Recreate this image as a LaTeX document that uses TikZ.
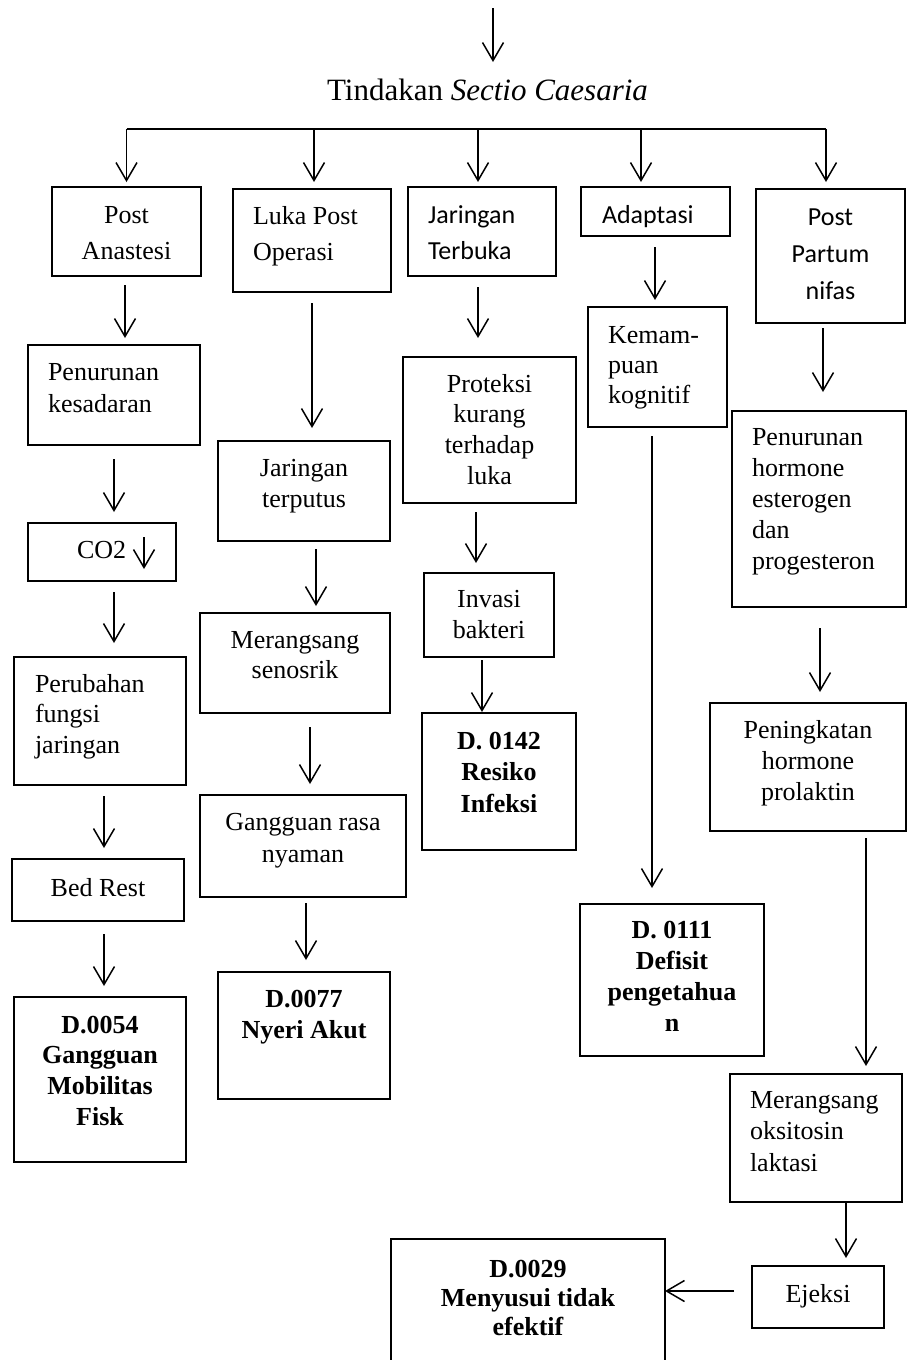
\documentclass[tikz,border=0pt]{standalone}
\usepackage{fontspec}
\setmainfont{Liberation Serif}
\newfontfamily\calfont{Carlito}
\usetikzlibrary{arrows.meta}
\makeatletter
% centred box text: width, height, first baseline, line pitch, text
\newcommand\bxc[5]{\vbox to #2pt{\hsize=#1pt\relax\centering\parskip=0pt\relax
  \baselineskip=#4pt\relax\lineskiplimit=-100pt\relax
  \vskip\dimexpr#3pt-20pt\relax\noindent\rule{0pt}{20pt}#5\par\vfill}}
% left-aligned box text: width, height, first baseline, line pitch, left margin, text
\newcommand\bxl[6]{\vbox to #2pt{\hsize=#1pt\relax\raggedright\leftskip=#5pt\relax\parskip=0pt\relax
  \baselineskip=#4pt\relax\lineskiplimit=-100pt\relax
  \vskip\dimexpr#3pt-20pt\relax\noindent\rule{0pt}{20pt}#6\par\vfill}}
\makeatother
\tikzset{
  box/.style={draw, line width=1.1pt, inner sep=0pt, outer sep=0pt, anchor=north west},
  tr/.style={font=\fontsize{26}{31}\selectfont},
  trb/.style={font=\fontsize{26}{31}\selectfont\bfseries},
  ca/.style={font=\calfont\fontsize{26}{37}\selectfont},
  link/.style={line width=1.5pt},
  arr/.style={line width=1.5pt, -{Straight Barb[length=18pt,width=21pt]}}
}
\begin{document}
\begin{tikzpicture}[x=1pt,y=-1pt]
\useasboundingbox (0,0) rectangle (907,1360);

% title and top arrow
\node[anchor=base, font=\fontsize{31}{37}\selectfont] (title) at (487.5,100) {Tindakan \textit{Sectio Caesaria}};
\coordinate (topstart) at (493,8);
\coordinate (topend) at (493,62);
\draw[arr] (topstart) -- (topend);

% distribution bar
\coordinate (d1) at (126.5,129);
\coordinate (d2) at (314,129);
\coordinate (d3) at (478,129);
\coordinate (d4) at (641,129);
\coordinate (d5) at (826,129);
\draw[link] (d1) -- (d5);

% first row
\node[box, tr] (pa) at (52,187) {\bxc{149}{89}{36}{36}{Post\\Anastesi}};
\node[box, tr] (lp) at (233,189) {\bxl{158}{103}{35}{36}{20}{Luka Post\\Operasi}};
\node[box, ca] (jt) at (408,187) {\bxl{148}{89}{36}{36}{20}{Jaringan\\Terbuka}};
\node[box, ca] (ad) at (581,187) {\bxl{149}{49}{36}{36}{21}{Adaptasi}};
\node[box, ca] (pp) at (756,189) {\bxc{149}{134}{36}{37}{Post\\Partum\\nifas}};

% column 1
\node[box, tr] (pk) at (28,345) {\bxl{172}{100}{35}{32}{20}{Penurunan\\kesadaran}};
\node[box, tr] (co) at (28,523) {\bxl{148}{58}{35}{31}{49}{CO2}};
\node[box, tr] (pf) at (14,657) {\bxl{172}{128}{35}{30.5}{21}{Perubahan\\fungsi\\jaringan}};
\node[box, tr] (br) at (12,859) {\bxc{172}{62}{37}{31}{Bed Rest}};
\node[box, trb] (dm) at (14,997) {\bxc{172}{165}{36}{30.7}{D.0054\\Gangguan\\Mobilitas\\Fisk}};

% column 2
\node[box, tr] (jtp) at (218,441) {\bxc{172}{100}{35}{31}{Jaringan\\terputus}};
\node[box, tr] (ms) at (200,613) {\bxc{190}{100}{35}{30}{Merangsang\\senosrik}};
\node[box, tr] (gr) at (200,795) {\bxc{206}{102}{35}{32}{Gangguan rasa\\nyaman}};
\node[box, trb] (na) at (218,972) {\bxc{172}{127}{35}{31}{D.0077\\Nyeri Akut}};

% column 3
\node[box, tr] (pr) at (403,357) {\bxc{173}{146}{35}{30.7}{Proteksi\\kurang\\terhadap\\luka}};
\node[box, tr] (ib) at (424,573) {\bxc{130}{84}{34}{31}{Invasi\\bakteri}};
\node[box, trb] (ri) at (422,713) {\bxc{154}{137}{36}{31.5}{D. 0142\\Resiko\\Infeksi}};

% column 4
\node[box, tr] (kk) at (588,307) {\bxl{139}{120}{36}{30}{20}{Kemam-\\puan\\kognitif}};
\node[box, trb] (dp) at (580,904) {\bxc{184}{152}{34}{31}{D. 0111\\Defisit\\pengetahua\\n}};

% column 5
\node[box, tr] (ph) at (732,411) {\bxl{174}{196}{34}{31}{20}{Penurunan\\hormone\\esterogen\\dan\\progesteron}};
\node[box, tr] (pl) at (710,703) {\bxc{196}{128}{35}{31}{Peningkatan\\hormone\\prolaktin}};
\node[box, tr] (mo) at (730,1074) {\bxl{172}{128}{34}{31.5}{20}{Merangsang\\oksitosin\\laktasi}};
\node[box, tr] (ej) at (752,1266) {\bxc{132}{62}{36}{31}{Ejeksi}};
\node[box, trb] (mt) at (391,1239) {\bxc{274}{130}{38}{29}{D.0029\\Menyusui tidak\\efektif}};

% drops from the bar
\draw[arr, shorten >=5pt] (d1) -- ([xshift=74.5pt]pa.north west);
\draw[arr, shorten >=7pt] (d2) -- ([xshift=81pt]lp.north west);
\draw[arr, shorten >=5pt] (d3) -- ([xshift=70pt]jt.north west);
\draw[arr, shorten >=5pt] (d4) -- ([xshift=60pt]ad.north west);
\draw[arr, shorten >=7pt] (d5) -- ([xshift=70pt]pp.north west);

% small arrow inside CO2 box
\draw[arr] ([shift={(116,14)}]co.north west) -- ([shift={(116,46)}]co.north west);

% vertical connectors
\draw[arr, shorten <=9pt, shorten >=7pt] ([xshift=73pt]pa.south west) -- ([xshift=97pt]pk.north west);
\draw[arr, shorten <=11pt, shorten >=13pt] ([xshift=79pt]lp.south west) -- ([xshift=94pt]jtp.north west);
\draw[arr, shorten <=11pt, shorten >=19pt] ([xshift=70pt]jt.south west) -- ([xshift=75pt]pr.north west);
\draw[arr, shorten <=11pt, shorten >=7pt] ([xshift=74pt]ad.south west) -- ([xshift=67pt]kk.north west);
\draw[arr, shorten <=5pt, shorten >=19pt] ([xshift=67pt]pp.south west) -- ([xshift=91pt]ph.north west);

\draw[arr, shorten <=14pt, shorten >=11pt] ([xshift=86pt]pk.south west) -- ([xshift=86pt]co.north west);
\draw[arr, shorten <=11pt, shorten >=14pt] ([xshift=86pt]co.south west) -- ([xshift=100pt]pf.north west);
\draw[arr, shorten <=11pt, shorten >=11pt] ([xshift=90pt]pf.south west) -- ([xshift=92pt]br.north west);
\draw[arr, shorten <=13pt, shorten >=11pt] ([xshift=92pt]br.south west) -- ([xshift=90pt]dm.north west);

\draw[arr, shorten <=8pt, shorten >=7pt] ([xshift=98pt]jtp.south west) -- ([xshift=116pt]ms.north west);
\draw[arr, shorten <=14pt, shorten >=11pt] ([xshift=110pt]ms.south west) -- ([xshift=110pt]gr.north west);
\draw[arr, shorten <=6pt, shorten >=12pt] ([xshift=106pt]gr.south west) -- ([xshift=88pt]na.north west);

\draw[arr, shorten <=9pt, shorten >=10pt] ([xshift=73pt]pr.south west) -- ([xshift=52pt]ib.north west);
\draw[arr, shorten <=3pt, shorten >=1pt] ([xshift=58pt]ib.south west) -- ([xshift=60pt]ri.north west);

\draw[arr, shorten <=9pt, shorten >=16pt] ([xshift=64pt]kk.south west) -- ([xshift=72pt]dp.north west);

\draw[arr, shorten <=21pt, shorten >=11pt] ([xshift=88pt]ph.south west) -- ([xshift=110pt]pl.north west);
\draw[arr, shorten <=7pt, shorten >=8pt] ([xshift=156pt]pl.south west) -- ([xshift=136pt]mo.north west);
\draw[arr, shorten >=8pt] ([xshift=116pt]mo.south west) -- ([xshift=94pt]ej.north west);
\draw[arr, shorten <=18pt] ([yshift=-25pt]ej.north west) -- ([yshift=-52pt]mt.north east);
\end{tikzpicture}
\end{document}
